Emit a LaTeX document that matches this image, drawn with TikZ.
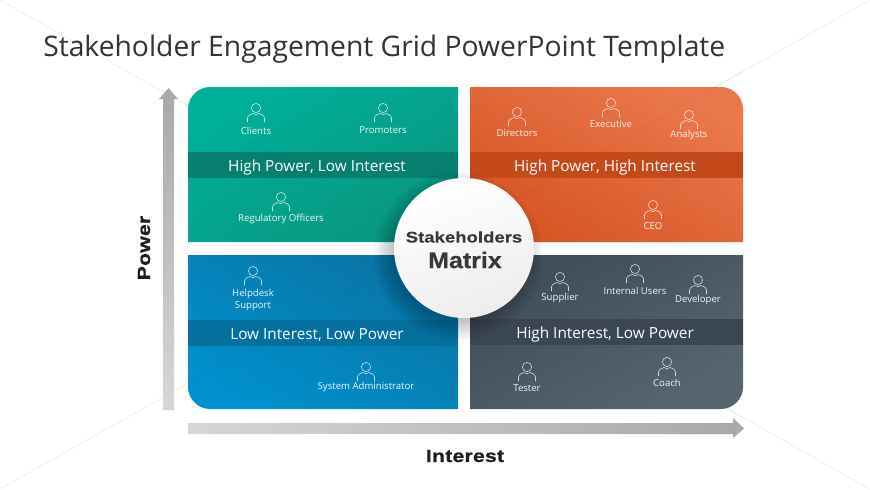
\documentclass[tikz,border=0pt]{standalone}
\usepackage{fontspec}
\setmainfont{Open Sans}
\newfontfamily\arialf[FakeStretch=1.2,FakeBold=.4]{Liberation Sans}
\newfontfamily\axisf[FakeStretch=1.2,LetterSpace=1.5,FakeBold=1]{Liberation Sans}
\newfontfamily\matrixf[FakeStretch=1.1,FakeBold=.4]{Liberation Sans}
\definecolor{tealA}{HTML}{00B09A}\definecolor{tealB}{HTML}{0A9680}\definecolor{tealC}{HTML}{067F6E}
\definecolor{orA}{HTML}{EA784C}\definecolor{orB}{HTML}{D65524}\definecolor{orC}{HTML}{C44A1C}
\definecolor{blA}{HTML}{0A74A4}\definecolor{blB}{HTML}{0090CC}\definecolor{blC}{HTML}{056F9E}
\definecolor{slA}{HTML}{3F4C59}\definecolor{slB}{HTML}{566671}\definecolor{slC}{HTML}{3A4753}
\tikzset{
  x=0.75pt,y=-0.75pt,
  who/.style={text=white,font=\fontsize{7.2}{9}\selectfont,inner sep=0pt,align=center,opacity=.92},
  bandtext/.style={text=white,font=\fontsize{11.5}{13}\selectfont,inner sep=0pt},
  axistext/.style={text=black!88,font=\axisf\bfseries\fontsize{13.2}{15}\selectfont,inner sep=0pt},
  person/.pic={
    \draw[white,opacity=.75,line width=.45pt] (0,0) circle[radius=4.6];
    \draw[white,opacity=.75,line width=.45pt] (-8.5,14) -- (-8.5,10) .. controls (-8.5,7) and (-4,6) .. (-3,5.5)
       .. controls (-1,7) and (1,7) .. (3,5.5) .. controls (4,6) and (8.5,7) .. (8.5,10) -- (8.5,14);
  },
}
\newcommand{\member}[5]{% name, x, head y, label y, text
  \pic at (#2,#3) {person};
  \node[who] (#1) at (#2,#4) {#5};
}
\begin{document}
\begin{tikzpicture}
\useasboundingbox (0,0) rectangle (870,489);
\fill[white] (0,0) rectangle (870,489);
% faint background diagonals
\draw[black!9,line width=.4pt] (0,0) -- (870,489) (870,0) -- (0,489);
\node[anchor=west,inner sep=0pt,text=black!80,font=\fontsize{21.2}{25}\selectfont] (title) at (43,49) {Stakeholder Engagement Grid PowerPoint Template};
% axes
\path[bottom color=black!16,top color=black!34] (163,410) -- (163,99) -- (159,99) -- (168.5,88) -- (178,99) -- (174,99) -- (174,410) -- cycle;
\path[left color=black!16,right color=black!34] (188,423) -- (733,423) -- (733,418) -- (744,428.5) -- (733,438) -- (733,434) -- (188,434) -- cycle;
\node[axistext,rotate=90] (power) at (144,248) {Power};
\node[axistext] (interest) at (465,456) {Interest};
% quadrants
\path[top color=tealA,bottom color=tealB,shading angle=30] (188,242) -- (188,109) .. controls (188,97) and (198,87) .. (210,87) -- (458,87) -- (458,242) -- cycle;
\path[top color=orA,bottom color=orB,shading angle=-30] (470,87) -- (721,87) .. controls (733,87) and (743,97) .. (743,109) -- (743,242) -- (470,242) -- cycle;
\path[top color=blA,bottom color=blB,shading angle=-30] (188,255) -- (458,255) -- (458,409) -- (210,409) .. controls (198,409) and (188,399) .. (188,387) -- cycle;
\path[top color=slA,bottom color=slB,shading angle=30] (470,255) -- (743,255) -- (743,387) .. controls (743,399) and (733,409) .. (721,409) -- (470,409) -- cycle;
% bands
\fill[tealC] (188,152) rectangle (458,178);
\fill[orC] (470,152) rectangle (743,178);
\fill[blC] (188,320) rectangle (458,346);
\fill[slC] (470,319) rectangle (743,345);
\draw[black,opacity=.06,line width=.4pt] (188,105.7) -- (743,417.7) (743,71.4) -- (188,383.3);
\node[bandtext] (tl) at (317,167.5) {High Power, Low Interest};
\node[bandtext] (tr) at (605,167.5) {High Power, High Interest};
\node[bandtext] (bl) at (317,335) {Low Interest, Low Power};
\node[bandtext] (br) at (605,335) {High Interest, Low Power};
% people
\member{clients}{256}{108}{131}{Clients}
\member{promoters}{383}{108}{130}{Promoters}
\member{regulatory}{281}{197}{219}{Regulatory Officers}
\member{directors}{517}{112}{133}{Directors}
\member{executive}{611}{103}{124}{Executive}
\member{analysts}{689}{115}{135}{Analysts}
\member{ceo}{653}{205}{226}{CEO}
\member{helpdesk}{253}{271}{300.5}{Helpdesk\\Support}
\member{sysadmin}{366}{367}{387}{System Administrator}
\member{supplier}{560}{277}{298}{Supplier}
\member{internal}{635}{269}{291}{Internal Users}
\member{developer}{698}{280}{300}{Developer}
\member{tester}{527}{367}{388}{Tester}
\member{coach}{667}{362}{383}{Coach}
% centre
\foreach \r in {84,81,...,66}{\fill[black,opacity=.035] (458,256) circle[radius=\r];}
\shade[top color=white,bottom color=black!7,shading angle=20] (464,248) circle[radius=70];
\node[inner sep=0pt,text=black!78,font=\arialf\bfseries\fontsize{11.6}{14}\selectfont] (stake) at (464,237) {Stakeholders};
\node[inner sep=0pt,text=black!78,font=\matrixf\bfseries\fontsize{17}{20}\selectfont] (matrix) at (465,260) {Matrix};
\end{tikzpicture}
\end{document}
